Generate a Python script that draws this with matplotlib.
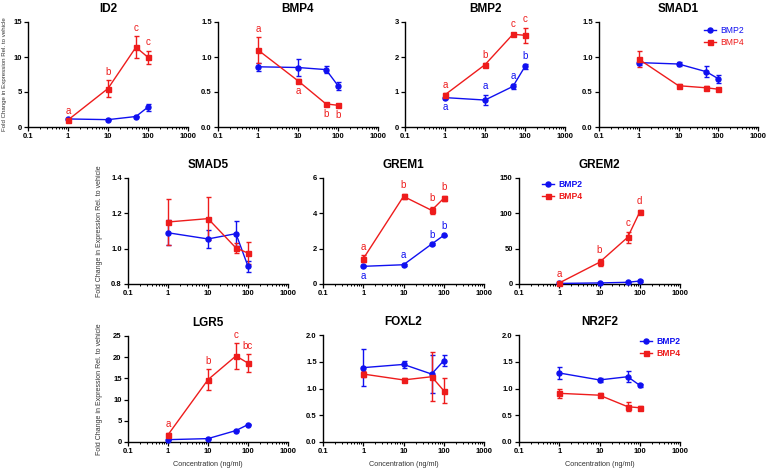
import matplotlib
matplotlib.use('Agg')
from matplotlib import pyplot as plt
from matplotlib.ticker import FixedLocator, LogLocator, NullFormatter

plt.rcParams['font.family'] = ['Liberation Sans', 'DejaVu Sans']

conc = [1, 10, 50, 100]
x_ticks = [0.1, 1, 10, 100, 1000]
x_tick_labels = ['0.1', '1', '10', '100', '1000']

genes = ['ID2', 'BMP4', 'BMP2', 'SMAD1', 'SMAD5', 'GREM1', 'GREM2', 'LGR5', 'FOXL2', 'NR2F2']

bmp2_mean = [
    [1.15, 1.05, 1.5, 2.85],
    [0.86, 0.85, 0.82, 0.59],
    [0.84, 0.77, 1.16, 1.73],
    [0.92, 0.90, 0.79, 0.69],
    [1.09, 1.055, 1.085, 0.90],
    [1.0, 1.09, 2.26, 2.75],
    [0.8, 1.5, 2.4, 4.2],
    [0.55, 0.8, 2.7, 4.1],
    [1.39, 1.45, 1.27, 1.52],
    [1.29, 1.16, 1.22, 1.06],
]
bmp2_err = [
    [0.1, 0.08, 0.1, 0.5],
    [0.06, 0.12, 0.05, 0.06],
    [0.04, 0.15, 0.06, 0.07],
    [0.04, 0.03, 0.08, 0.06],
    [0.07, 0.05, 0.07, 0.03],
    [0.05, 0.05, 0.05, 0.05],
    [0.3, 0.5, 0.5, 0.8],
    [0.1, 0.1, 0.2, 0.2],
    [0.35, 0.06, 0.35, 0.1],
    [0.12, 0.03, 0.1, 0.03],
]
bmp4_mean = [
    [1.0, 5.5, 11.4, 9.95],
    [1.10, 0.66, 0.33, 0.31],
    [0.92, 1.78, 2.65, 2.62],
    [0.97, 0.59, 0.56, 0.54],
    [1.151, 1.17, 1.004, 0.975],
    [1.43, 4.96, 4.17, 4.85],
    [1.5, 30.7, 66.0, 102.0],
    [1.7, 14.7, 20.3, 18.6],
    [1.27, 1.16, 1.22, 0.96],
    [0.91, 0.875, 0.66, 0.64],
]
bmp4_err = [
    [0.1, 1.2, 1.6, 0.95],
    [0.18, 0.02, 0.02, 0.02],
    [0.04, 0.04, 0.04, 0.22],
    [0.11, 0.03, 0.03, 0.02],
    [0.13, 0.12, 0.03, 0.06],
    [0.2, 0.15, 0.2, 0.15],
    [1.0, 5.0, 8.0, 3.0],
    [0.5, 2.5, 3.0, 2.1],
    [0.05, 0.03, 0.46, 0.23],
    [0.08, 0.04, 0.08, 0.04],
]
bmp2_letters = [
    None, None, ['a', 'a', 'a', 'b'], None, None,
    ['a', 'a', 'b', 'b'], None, None, None, None,
]
bmp4_letters = [
    ['a', 'b', 'c', 'c'], ['a', 'a', 'b', 'b'], ['a', 'b', 'c', 'c'], None, None,
    ['a', 'b', 'b', 'b'], ['a', 'b', 'c', 'd'], ['a', 'b', 'c', 'bc'], None, None,
]
y_ticks = [
    [0, 5, 10, 15],
    [0.0, 0.5, 1.0, 1.5],
    [0, 1, 2, 3],
    [0.0, 0.5, 1.0, 1.5],
    [0.8, 1.0, 1.2, 1.4],
    [0, 2, 4, 6],
    [0, 50, 100, 150],
    [0, 5, 10, 15, 20, 25],
    [0.0, 0.5, 1.0, 1.5, 2.0],
    [0.0, 0.5, 1.0, 1.5, 2.0],
]
y_formats = ['{:.0f}', '{:.1f}', '{:.0f}', '{:.1f}', '{:.1f}', '{:.0f}', '{:.0f}', '{:.0f}', '{:.1f}', '{:.1f}']

BLUE = '#1010f0'
RED = '#ee1c1c'
W, H = 768, 470

# axes boxes in pixels: left, top, right, bottom
boxes = [
    (28, 22, 188, 127), (218, 22, 378, 127), (405, 22, 565, 127), (599, 22, 758, 127),
    (128, 178, 288, 284), (323, 178, 484, 284), (519, 178, 680, 284),
    (128, 336, 288, 442), (323, 335, 484, 442), (519, 335, 680, 442),
]
# letters drawn under the point instead of above: (gene index, series, point index)
below = {(1, 'bmp4', 1), (1, 'bmp4', 2), (1, 'bmp4', 3), (2, 'bmp2', 0), (5, 'bmp2', 0)}
legend_at = {3: (0.66, 0.96, 'normal'), 6: (0.14, 0.98, 'bold'), 9: (0.75, 0.98, 'bold')}

fig = plt.figure(figsize=(W / 100, H / 100), dpi=100)

for i, gene in enumerate(genes):
    l, t, r, b = boxes[i]
    ax = fig.add_axes([l / W, 1 - b / H, (r - l) / W, (b - t) / H])
    ax.set_xscale('log')

    series = [('bmp2', bmp2_mean[i], bmp2_err[i], bmp2_letters[i], BLUE, 'o', 'BMP2'),
              ('bmp4', bmp4_mean[i], bmp4_err[i], bmp4_letters[i], RED, 's', 'BMP4')]
    handles = []
    labels = []
    for key, mean, err, letters, color, marker, label in series:
        h = ax.errorbar(conc, mean, yerr=err, color=color, marker=marker, markersize=3.6,
                        linewidth=1.0, elinewidth=1.0, capsize=1.8, capthick=1.0,
                        clip_on=False, zorder=3)
        handles.append(h[0])
        labels.append(label)
        if letters is None:
            continue
        for j, letter in enumerate(letters):
            if (i, key, j) in below:
                ax.annotate(letter, (conc[j], mean[j] - err[j]), xytext=(0, -2.5),
                            textcoords='offset points', ha='center', va='top',
                            color=color, fontsize=7)
            else:
                ax.annotate(letter, (conc[j], mean[j] + err[j]), xytext=(0, 2.5),
                            textcoords='offset points', ha='center', va='bottom',
                            color=color, fontsize=7)

    ax.set_xlim(0.1, 1000)
    ax.set_ylim(y_ticks[i][0], y_ticks[i][-1])
    ax.set_xticks(x_ticks)
    ax.set_xticklabels(x_tick_labels)
    ax.xaxis.set_minor_locator(LogLocator(base=10, subs=range(2, 10)))
    ax.xaxis.set_minor_formatter(NullFormatter())
    ax.yaxis.set_major_locator(FixedLocator(y_ticks[i]))
    ax.set_yticklabels([y_formats[i].format(v) for v in y_ticks[i]])
    for lab in ax.get_xticklabels() + ax.get_yticklabels():
        lab.set_fontweight('bold')
    ax.tick_params(axis='both', which='major', labelsize=5.5, length=3, width=0.9, pad=1.5)
    ax.tick_params(axis='x', which='minor', length=1.6, width=0.7)
    for side in ('top', 'right'):
        ax.spines[side].set_visible(False)
    for side in ('left', 'bottom'):
        ax.spines[side].set_linewidth(1.0)

    ax.set_title(gene, fontsize=8.5, fontweight='bold', pad=7)

    if i in (0, 4, 7):
        ax.set_ylabel('Fold Change in Expression Rel. to vehicle',
                      fontsize=4.4 if i == 0 else 5.0, color='#333333')
        ax.yaxis.set_label_coords(-0.13 if i == 0 else -0.155, 0.5)
    if i >= 7:
        ax.set_xlabel('Concentration (ng/ml)', fontsize=5.2, color='#333333', labelpad=4)

    if i in legend_at:
        lx, ly, weight = legend_at[i]
        leg = ax.legend(handles, labels, loc='upper left', bbox_to_anchor=(lx, ly),
                        frameon=False, fontsize=6.2, handlelength=1.4, handletextpad=0.5,
                        borderpad=0, borderaxespad=0, labelspacing=0.35)
        for txt, color in zip(leg.get_texts(), (BLUE, RED)):
            txt.set_color(color)
            txt.set_fontweight(weight)

fig.savefig('out.png', dpi=100)
